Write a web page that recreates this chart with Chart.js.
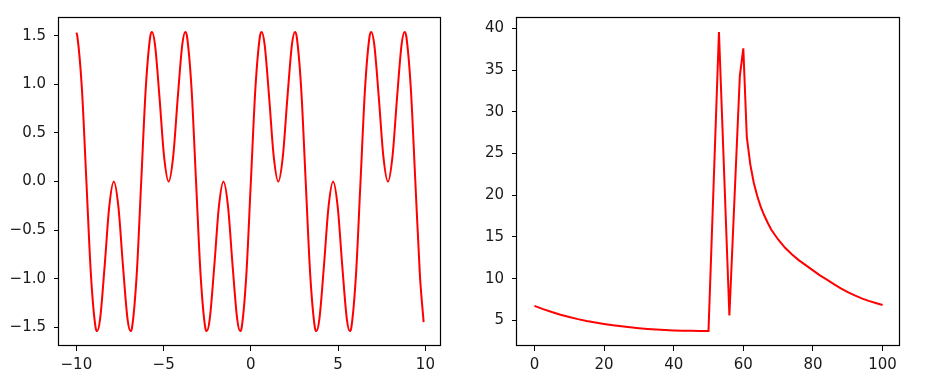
<!DOCTYPE html>
<html><head><meta charset="utf-8">
<script src="https://cdn.jsdelivr.net/npm/chart.js@4.4.1/dist/chart.umd.min.js"></script>
<style>
html,body{margin:0;padding:0;background:#fff;width:925px;height:384px;overflow:hidden}
.wrap{position:absolute;top:0;height:384px}
canvas{display:block}
</style></head><body>
<div class="wrap" style="left:0;width:462px"><canvas id="c1" width="462" height="384"></canvas></div>
<div class="wrap" style="left:462px;width:463px"><canvas id="c2" width="463" height="384"></canvas></div>
<script>
// ---- Left panel data ----
const leftX = [-10, -9.9484, -9.6866, -9.4248, -9.1630, -8.9012, -8.8093, -8.6394, -8.3776, -8.1158, -7.8540, -7.5922, -7.3304, -7.0686, -6.8987, -6.8068, -6.5450, -6.2832,
 -6.0214, -5.7596, -5.6677, -5.4978, -5.2360, -4.9742, -4.7124, -4.4506, -4.1888, -3.9270, -3.7571, -3.6652, -3.4034, -3.1416, -2.8798, -2.6180, -2.5261, -2.3562, -2.0944, -1.8326, -1.5708, -1.3090, -1.0472, -0.7854, -0.6155, -0.5236, -0.2618, 0,
 0.2618, 0.5236, 0.6155, 0.7854, 1.0472, 1.3090, 1.5708, 1.8326, 2.0944, 2.3562, 2.5261, 2.6180, 2.8798, 3.1416, 3.4034, 3.6652, 3.7571, 3.9270, 4.1888, 4.4506, 4.7124, 4.9742, 5.2360, 5.4978, 5.6677, 5.7596, 6.0214, 6.2832,
 6.5450, 6.8068, 6.8987, 7.0686, 7.3304, 7.5922, 7.8540, 8.1158, 8.3776, 8.6394, 8.8093, 8.9012, 9.1630, 9.4248, 9.6866, 9.9];
const leftY = [1.532, 1.5, 0.9659, 0, -0.9659, -1.5, -1.5396, -1.4142, -0.866, -0.2588, 0, -0.2588, -0.866, -1.4142, -1.5396, -1.5, -0.9659, 0,
 0.9659, 1.5, 1.5396, 1.4142, 0.866, 0.2588, 0, 0.2588, 0.866, 1.4142, 1.5396, 1.5, 0.9659, 0, -0.9659, -1.5, -1.5396, -1.4142, -0.866, -0.2588, 0, -0.2588, -0.866, -1.4142, -1.5396, -1.5, -0.9659, 0,
 0.9659, 1.5, 1.5396, 1.4142, 0.866, 0.2588, 0, 0.2588, 0.866, 1.4142, 1.5396, 1.5, 0.9659, 0, -0.9659, -1.5, -1.5396, -1.4142, -0.866, -0.2588, 0, -0.2588, -0.866, -1.4142, -1.5396, -1.5, -0.9659, 0,
 0.9659, 1.5, 1.5396, 1.4142, 0.866, 0.2588, 0, 0.2588, 0.866, 1.4142, 1.5396, 1.5, 0.9659, 0, -0.9659, -1.447];
const leftXTicks = [-10, -5, 0, 5, 10];
const leftYTicks = [-1.5, -1.0, -0.5, 0.0, 0.5, 1.0, 1.5];

// ---- Right panel data ----
const rightX = [0, 2.5, 5, 7.5, 10, 12.5, 15, 17.5, 20, 22.5, 25, 27.5, 30, 32.5, 35, 37.5, 40, 42.5, 45, 47.5, 50,
 53, 56, 59, 60, 61, 62, 63, 64, 65, 66, 67, 68, 70, 72, 74, 76, 78, 80, 82, 84, 86, 88, 90, 92, 94, 96, 98, 100];
const rightY = [6.75, 6.36, 6.01, 5.69, 5.41, 5.16, 4.94, 4.75, 4.58, 4.43, 4.30, 4.18, 4.08, 3.99, 3.92, 3.86, 3.81, 3.78, 3.76, 3.75, 3.75,
 39.55, 5.6, 34.3, 37.6, 27.0, 23.7, 21.5, 19.9, 18.6, 17.6, 16.7, 15.9, 14.7, 13.7, 12.9, 12.2, 11.6, 11.0, 10.4, 9.9, 9.35, 8.85, 8.4, 8.0, 7.65, 7.35, 7.1, 6.85];
const rightXTicks = [0, 20, 40, 60, 80, 100];
const rightYTicks = [5, 10, 15, 20, 25, 30, 35, 40];

const MINUS = '\u2212';
const fmt = (v, d) => { const s = Math.abs(v).toFixed(d); return (v < 0 ? MINUS : '') + s; };
const FONT = {family: "'DejaVu Sans', sans-serif", size: 15};
const TXT = '#1a1a1a';

const frame = {
  id: 'frame',
  afterDraw(chart) {
    const {ctx, chartArea: a} = chart;
    ctx.save();
    ctx.strokeStyle = '#000';
    ctx.lineWidth = 1.2;
    ctx.strokeRect(Math.round(a.left) - 0.5, Math.round(a.top) + 0.5, Math.round(a.right - a.left), Math.round(a.bottom - a.top) - 1);
    ctx.restore();
  }
};

function makeChart(id, xs, ys, xTicks, yTicks, xr, yr, yDec, xDec, yWidth, padRight, smooth) {
  const grid = {drawOnChartArea: false, drawTicks: true, tickLength: 5, color: '#000', lineWidth: 1};
  return new Chart(document.getElementById(id), {
    type: 'line',
    data: {datasets: [{
      data: xs.map((x, i) => ({x: x, y: ys[i]})),
      borderColor: '#ff0000', borderWidth: 2, pointRadius: 0, fill: false,
      cubicInterpolationMode: smooth ? 'monotone' : 'default', tension: 0
    }]},
    options: {
      responsive: false, animation: false, devicePixelRatio: 1,
      layout: {padding: {left: 0, top: 15, right: padRight, bottom: 0}},
      plugins: {legend: {display: false}, tooltip: {enabled: false}},
      scales: {
        x: {
          type: 'linear', min: xr[0], max: xr[1],
          afterBuildTicks: s => { s.ticks = xTicks.map(v => ({value: v})); },
          afterFit: s => { s.height = 38; },
          grid: grid, border: {display: false},
          ticks: {font: FONT, color: TXT, padding: 5, maxRotation: 0, autoSkip: false,
                  callback: v => fmt(v, xDec)}
        },
        y: {
          type: 'linear', min: yr[0], max: yr[1],
          afterBuildTicks: s => { s.ticks = yTicks.map(v => ({value: v})); },
          afterFit: s => { s.width = yWidth; },
          grid: grid, border: {display: false},
          ticks: {font: FONT, color: TXT, padding: 8, autoSkip: false,
                  callback: v => fmt(v, yDec)}
        }
      }
    },
    plugins: [frame]
  });
}

makeChart('c1', leftX, leftY, leftXTicks, leftYTicks, [-10.995, 10.895], [-1.693, 1.693], 1, 0, 59, 21, true);
makeChart('c2', rightX, rightY, rightXTicks, rightYTicks, [-5, 105], [1.94, 41.35], 0, 0, 55, 25, false);
</script>
</body></html>
